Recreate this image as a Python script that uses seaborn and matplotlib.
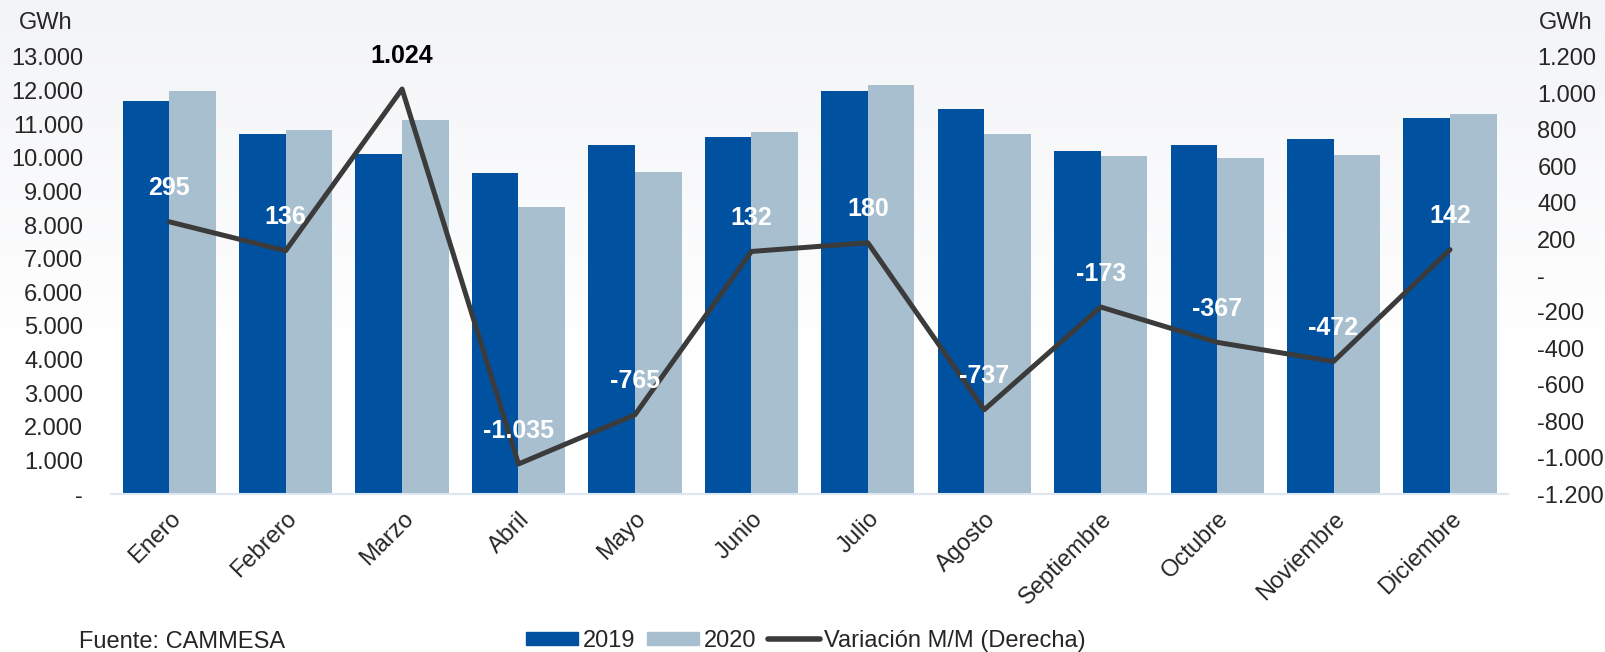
import numpy as np
import pandas as pd
import seaborn as sns
import matplotlib.pyplot as plt
from matplotlib.ticker import FuncFormatter, MultipleLocator
from matplotlib.patches import Patch
from matplotlib.lines import Line2D

meses = ['Enero', 'Febrero', 'Marzo', 'Abril', 'Mayo', 'Junio', 'Julio',
         'Agosto', 'Septiembre', 'Octubre', 'Noviembre', 'Diciembre']
dem_2019 = [11700, 10700, 10100, 9560, 10370, 10630, 12000, 11450, 10210, 10370, 10550, 11180]
dem_2020 = [11990, 10830, 11130, 8530, 9590, 10760, 12170, 10710, 10040, 10000, 10080, 11310]
variacion = [295, 136, 1024, -1035, -765, 132, 180, -737, -173, -367, -472, 142]

c2019 = '#0052A0'
c2020 = '#A8BFCF'
cline = '#3B3B3B'

sns.set_style('white')
plt.rcParams['font.family'] = ['Liberation Sans', 'DejaVu Sans']


def fmt_miles(v, pos=None):
    v = int(round(v))
    if v == 0:
        return '-'
    s = f'{abs(v):,}'.replace(',', '.')
    return ('-' if v < 0 else '') + s


df = pd.DataFrame({'mes': meses * 2,
                   'anio': ['2019'] * 12 + ['2020'] * 12,
                   'gwh': dem_2019 + dem_2020})

fig = plt.figure(figsize=(16.06, 6.52), dpi=100)

# fondo degradado gris claro -> blanco
bg = fig.add_axes([0, 0, 1, 1], zorder=-10)
grad = np.linspace(0, 1, 256).reshape(-1, 1)
grad = np.clip(grad / 0.55, 0, 1)
top = np.array([243, 244, 247]) / 255
img = top[None, None, :] * (1 - grad[..., None]) + np.ones(3)[None, None, :] * grad[..., None]
bg.imshow(img, aspect='auto', extent=[0, 1, 0, 1])
bg.axis('off')

ax = fig.add_axes([0.0691, 0.2423, 0.8700, 0.6703])
ax.patch.set_visible(False)
sns.barplot(data=df, x='mes', y='gwh', hue='anio', palette=[c2019, c2020],
            width=0.8, gap=0, saturation=1, linewidth=0, ax=ax, legend=False)
ax.set_xlim(-0.5, 11.5)
ax.set_ylim(0, 13000)
ax.yaxis.set_major_locator(MultipleLocator(1000))
ax.yaxis.set_major_formatter(FuncFormatter(fmt_miles))
ax.set_xlabel('')
ax.set_ylabel('')
for s in ['left', 'right', 'top']:
    ax.spines[s].set_visible(False)
ax.spines['bottom'].set_color('#DCE7F2')
ax.spines['bottom'].set_linewidth(1.5)
ax.tick_params(axis='y', length=0, pad=20, labelsize=17)
ax.tick_params(axis='x', length=0, pad=10, labelsize=17)
plt.setp(ax.get_xticklabels(), rotation=45, ha='right', rotation_mode='anchor')

ax2 = ax.twinx()
ax2.patch.set_visible(False)
xpos = np.arange(len(meses))
sns.lineplot(x=xpos, y=variacion, color=cline, linewidth=3.6, ax=ax2)
ax2.set_ylim(-1200, 1200)
ax2.yaxis.set_major_locator(MultipleLocator(200))
ax2.yaxis.set_major_formatter(FuncFormatter(fmt_miles))
ax2.tick_params(axis='y', length=0, pad=21, labelsize=17)
for s in ax2.spines.values():
    s.set_visible(False)

for i, v in enumerate(variacion):
    col = 'black' if v == max(variacion) else 'white'
    ax2.annotate(fmt_miles(v), (xpos[i], v), xytext=(0, 24), textcoords='offset points',
                 ha='center', va='center', fontsize=18, fontweight='bold', color=col)

fig.text(19 / 1606, 1 - 23 / 652, 'GWh', fontsize=17, va='center', ha='left')
fig.text(1539 / 1606, 1 - 23 / 652, 'GWh', fontsize=17, va='center', ha='left')
fig.text(79 / 1606, 1 - 642 / 652, 'Fuente: CAMMESA', fontsize=17, va='center', ha='left')

handles = [Patch(color=c2019), Patch(color=c2020), Line2D([], [], color=cline, lw=4)]
fig.legend(handles, ['2019', '2020', 'Variación M/M (Derecha)'], loc='center',
           bbox_to_anchor=(806 / 1606, 1 - 641 / 652), ncol=3, frameon=False,
           fontsize=17, handlelength=2.2, handleheight=0.5, handletextpad=0.2,
           columnspacing=0.5, borderpad=0, borderaxespad=0)

fig.savefig('out.png', dpi=100)
